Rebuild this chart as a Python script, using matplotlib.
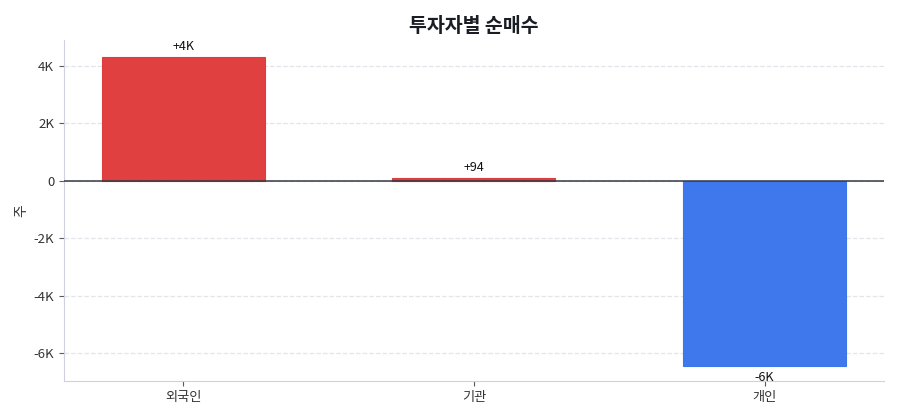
import matplotlib
matplotlib.use("Agg")
import matplotlib.pyplot as plt

plt.rcParams['font.family'] = ['Noto Sans CJK KR', 'DejaVu Sans']
plt.rcParams['axes.unicode_minus'] = False

investors = ['외국인', '기관', '개인']
net_buy = [4313, 94, -6435]
labels = ['+4K', '+94', '-6K']
y_ticks = [-6000, -4000, -2000, 0, 2000, 4000]
y_tick_labels = ['-6K', '-4K', '-2K', '0', '2K', '4K']

colors = ['#e03c3c' if v >= 0 else '#3b74ec' for v in net_buy]

fig, ax = plt.subplots(figsize=(9, 4.2), dpi=100)
fig.subplots_adjust(left=0.071, right=0.982, top=0.905, bottom=0.093)

x = range(len(investors))
bars = ax.bar(x, net_buy, width=0.56, color=colors, edgecolor=colors,
              linewidth=0.8, alpha=0.98, zorder=3)

for rect, v, lab in zip(bars, net_buy, labels):
    cx = rect.get_x() + rect.get_width() / 2
    if v >= 0:
        ax.annotate(lab, (cx, v), xytext=(0, 3), textcoords='offset points',
                    ha='center', va='bottom', fontsize=9, color='#111111')
    else:
        ax.annotate(lab, (cx, v), xytext=(0, -3.5), textcoords='offset points',
                    ha='center', va='top', fontsize=9, color='#111111', zorder=5)

ax.axhline(0, color='#333842', linewidth=1.1, zorder=4)
ax.set_xticks(list(x))
ax.set_xticklabels(investors)
ax.set_yticks(y_ticks)
ax.set_yticklabels(y_tick_labels)
ax.set_xlim(-0.41, 2.41)
ax.set_ylim(-6960, 4900)

ax.set_title('투자자별 순매수', fontsize=14, fontweight='bold', color='#1a1d24', pad=6)
ax.set_ylabel('주', fontsize=10, color='#333333')

ax.grid(axis='y', linestyle='--', color='#e3e5ea', linewidth=0.9, zorder=0)
for s in ['top', 'right']:
    ax.spines[s].set_visible(False)
for s in ['left', 'bottom']:
    ax.spines[s].set_color('#cfd2de')
ax.tick_params(axis='both', colors='#555a66', labelcolor='#333333', labelsize=9.5)

fig.savefig('out.png', dpi=100)
